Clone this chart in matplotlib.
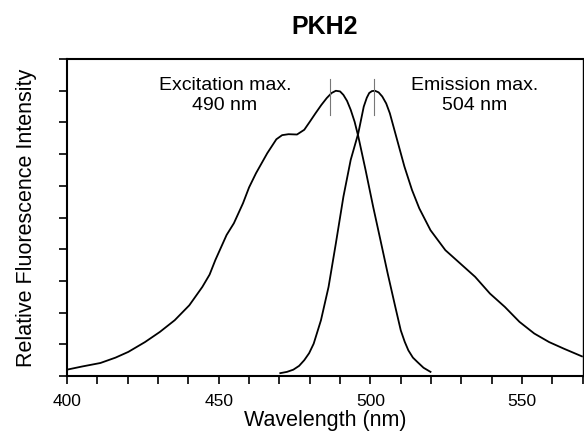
import numpy as np
import matplotlib.pyplot as plt

plt.rcParams['font.family'] = ['Liberation Sans', 'DejaVu Sans']

# Excitation spectrum
ex_nm = [400, 405, 411, 416, 420.2, 425.7, 430.6, 435.5, 440.3, 444.6, 447, 448.9, 452.6,
         455, 458, 460, 462.3, 466, 469, 470.9, 473, 475.8, 478.2, 480, 481.9, 483.8,
         485.6, 487.2, 488.6, 490, 491.1, 492.3, 493.5, 494.8, 496, 498.4, 500.9, 503.3,
         505.7, 508.2, 510, 511.3, 512.5, 514, 515.5, 517.5, 519.8]
ex_int = [0.2, 0.3, 0.41, 0.58, 0.76, 1.07, 1.39, 1.76, 2.23, 2.81, 3.2, 3.66, 4.45,
          4.82, 5.45, 5.95, 6.40, 7.03, 7.47, 7.60, 7.63, 7.62, 7.77, 8.02, 8.29, 8.55,
          8.77, 8.93, 9.0, 8.98, 8.87, 8.68, 8.40, 8.02, 7.56, 6.50, 5.34, 4.29,
          3.23, 2.18, 1.44, 1.08, 0.81, 0.58, 0.44, 0.26, 0.13]

# Emission spectrum
em_nm = [470.3, 472.5, 474.6, 476.5, 478.2, 479.8, 481.3, 483.7, 486.2, 488.6, 491.1,
         493.5, 496, 497.8, 498.8, 499.6, 500.5, 501.5, 502.7, 503.9, 505.2, 506.4, 508.8,
         511.2, 513.7, 516.1, 519.8, 524.7, 529.6, 534.5, 539.4, 544.3, 549.1, 554,
         558.9, 563.8, 569.7]
em_int = [0.09, 0.13, 0.2, 0.32, 0.50, 0.72, 1.02, 1.76, 2.81, 4.18, 5.66,
          6.82, 7.66, 8.50, 8.78, 8.93, 8.99, 9.0, 8.95, 8.82, 8.6, 8.29, 7.45,
          6.61, 5.87, 5.29, 4.60, 3.97, 3.55, 3.13, 2.60, 2.18, 1.71, 1.34,
          1.07, 0.86, 0.62]

max_marks = [486.6, 501.1]
labels = ["Excitation max.\n490 nm", "Emission max.\n504 nm"]
label_x = [452, 534.5]

fig = plt.figure(figsize=(5.84, 4.41), dpi=100)
ax = fig.add_axes([0.1147, 0.1474, 0.8833, 0.7186])

ax.plot(ex_nm, ex_int, color="black", linewidth=1.3)
ax.plot(em_nm, em_int, color="black", linewidth=1.3)

for xm in max_marks:
    ax.plot([xm, xm], [8.23, 9.37], color="#777777", linewidth=0.8)

for x, t in zip(label_x, labels):
    ax.text(x, 8.86, t, ha="center", va="center", multialignment="center", fontsize=14)

ax.set_xlim(400, 570)
ax.set_ylim(0, 10)
ax.set_xticks([400, 450, 500, 550])
ax.set_xticks(np.arange(400, 571, 10), minor=True)
ax.set_yticks(range(0, 11))
ax.set_yticklabels([])
ax.tick_params(axis="both", which="both", direction="out", length=6, width=1.2)
ax.tick_params(axis="x", labelsize=12.5, pad=7)

for side in ["left", "bottom", "top"]:
    ax.spines[side].set_linewidth(1.5)
ax.spines["right"].set_linewidth(1.0)

ax.set_xlabel("Wavelength (nm)", fontsize=15.5, labelpad=1)
ax.set_ylabel("Relative Fluorescence Intensity", fontsize=15.5, labelpad=12)
ax.set_title("PKH2", fontsize=18, fontweight="bold", pad=18)

fig.savefig("out.png", dpi=100)
